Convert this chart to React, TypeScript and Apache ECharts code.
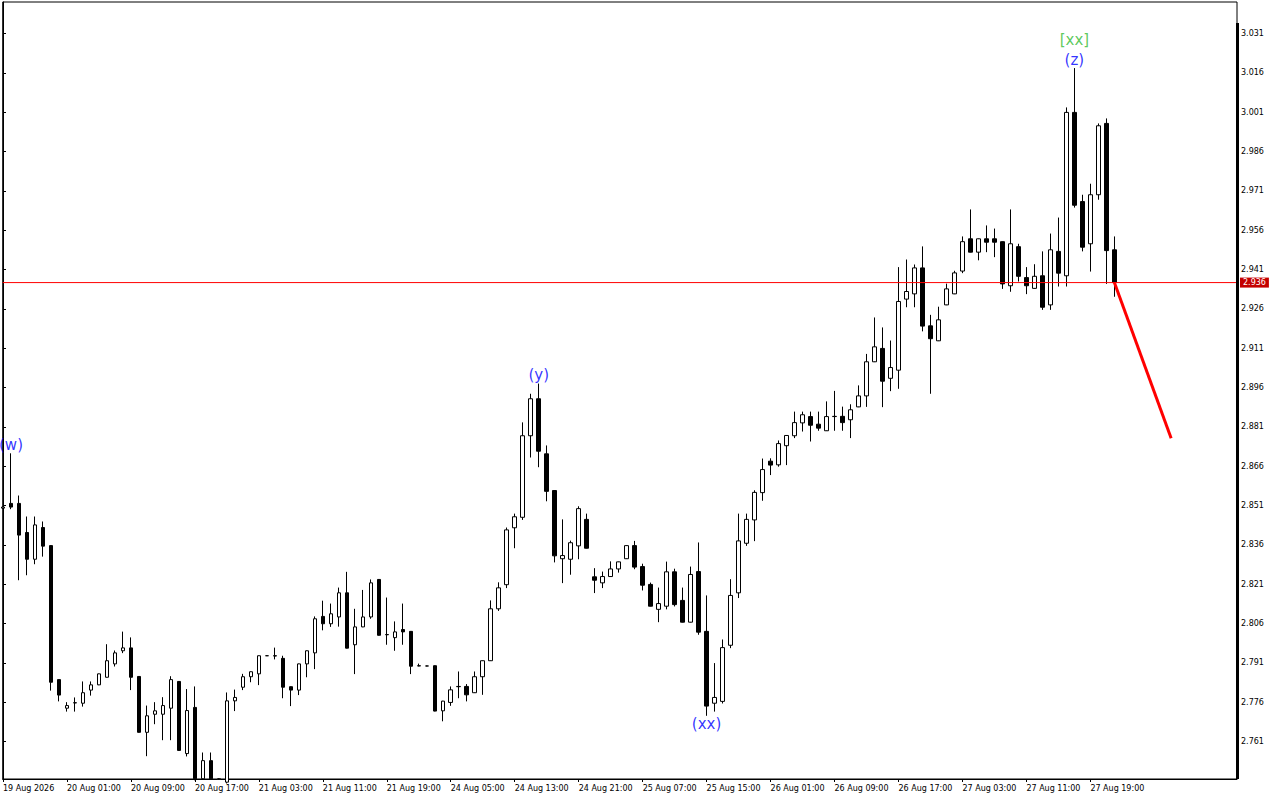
import React, { useEffect, useRef } from 'react';
import * as echarts from 'echarts';

// hourly candles, index 0 = 19 Aug 17:00
const opens = [
  2.85, 2.8518, 2.8518, 2.8407, 2.8305, 2.8426, 2.8357, 2.7846, 2.7737, 2.7757,
  2.7756, 2.7806, 2.7826, 2.7855, 2.7906, 2.7956, 2.7967, 2.7858, 2.7645, 2.7714,
  2.7714, 2.7737, 2.7839, 2.7564, 2.774, 2.7468, 2.7537, 2.7466, 2.7455, 2.7765,
  2.7817, 2.7857, 2.7868, 2.7937, 2.7937, 2.7927, 2.7819, 2.7806, 2.7906, 2.7948,
  2.8087, 2.8059, 2.8085, 2.8177, 2.7979, 2.8047, 2.8085, 2.8228, 2.8017, 2.8006,
  2.8037, 2.803, 2.7898, 2.7898, 2.7899, 2.7727, 2.7759, 2.7819, 2.782, 2.7796,
  2.7857, 2.7918, 2.8116, 2.8208, 2.8425, 2.8465, 2.8776, 2.8917, 2.8707, 2.8567,
  2.8307, 2.8305, 2.8356, 2.8457, 2.8238, 2.8215, 2.8239, 2.8268, 2.8307, 2.8357,
  2.8277, 2.8209, 2.8114, 2.8126, 2.8257, 2.8148, 2.8065, 2.8258, 2.803, 2.7756,
  2.7763, 2.7977, 2.8177, 2.8366, 2.8455, 2.8559, 2.8679, 2.8665, 2.8738, 2.8776,
  2.8825, 2.8849, 2.882, 2.8795, 2.8849, 2.885, 2.8837, 2.8886, 2.8928, 2.9058,
  2.9109, 2.8995, 2.9026, 2.9297, 2.9317, 2.9416, 2.9195, 2.9138, 2.9275, 2.9317,
  2.9404, 2.9527, 2.9476, 2.9527, 2.9527, 2.9516, 2.9348, 2.9497, 2.9379, 2.9338,
  2.9386, 2.9275, 2.9479, 2.9386, 3.0009, 2.9669, 2.9508, 2.9695, 2.9967, 2.9485,
];
const closes = [
  2.8504, 2.8504, 2.8397, 2.8305, 2.8436, 2.8355, 2.7836, 2.7787, 2.7747, 2.7758,
  2.7796, 2.7826, 2.7868, 2.7918, 2.7948, 2.7967, 2.7855, 2.7645, 2.7708, 2.7727,
  2.7747, 2.7846, 2.7576, 2.7728, 2.7468, 2.7537, 2.7468, 2.7468, 2.7765, 2.7778,
  2.7857, 2.7876, 2.7937, 2.7937, 2.7936, 2.7817, 2.7806, 2.7906, 2.7956, 2.8078,
  2.8059, 2.8097, 2.8177, 2.7966, 2.8047, 2.8085, 2.8215, 2.8015, 2.8018, 2.8028,
  2.8028, 2.7897, 2.7899, 2.7898, 2.7726, 2.7764, 2.7807, 2.782, 2.7788, 2.7857,
  2.7918, 2.8116, 2.8196, 2.8417, 2.8467, 2.8776, 2.8917, 2.8717, 2.8564, 2.8318,
  2.8319, 2.8368, 2.8498, 2.8347, 2.8225, 2.8239, 2.8268, 2.8295, 2.8357, 2.8275,
  2.8206, 2.8126, 2.8136, 2.8257, 2.8132, 2.8065, 2.8247, 2.8027, 2.7745, 2.7778,
  2.7968, 2.8167, 2.8375, 2.8457, 2.856, 2.8647, 2.8664, 2.8746, 2.8777, 2.8826,
  2.8856, 2.8816, 2.8805, 2.8849, 2.885, 2.8826, 2.8875, 2.8928, 2.9058, 2.9115,
  2.8984, 2.9036, 2.9288, 2.9326, 2.9416, 2.9194, 2.9146, 2.9218, 2.9336, 2.9397,
  2.9516, 2.9476, 2.9527, 2.9514, 2.9514, 2.9355, 2.9508, 2.9384, 2.9348, 2.9384,
  2.9266, 2.9485, 2.9396, 3.0009, 2.9655, 2.9495, 2.9695, 2.9958, 2.9482, 2.936,
];
const lows = [
  2.8498, 2.8496, 2.8225, 2.8244, 2.8286, 2.8315, 2.7804, 2.7763, 2.7724, 2.7724,
  2.7743, 2.7785, 2.7825, 2.7854, 2.7896, 2.7947, 2.7806, 2.7644, 2.7554, 2.7676,
  2.7615, 2.7615, 2.7575, 2.7553, 2.7462, 2.7466, 2.7466, 2.7464, 2.745, 2.7726,
  2.7806, 2.7836, 2.7825, 2.7936, 2.7923, 2.7775, 2.7745, 2.7787, 2.7855, 2.7886,
  2.8034, 2.8047, 2.8048, 2.7965, 2.7867, 2.8046, 2.8078, 2.8014, 2.7979, 2.7956,
  2.7979, 2.7867, 2.7897, 2.7897, 2.7725, 2.7687, 2.7746, 2.7775, 2.7763, 2.7795,
  2.7788, 2.7917, 2.8108, 2.8195, 2.8347, 2.8455, 2.8693, 2.8656, 2.8526, 2.8293,
  2.8214, 2.8246, 2.8305, 2.8346, 2.8176, 2.8195, 2.8238, 2.8254, 2.8306, 2.8267,
  2.8186, 2.8125, 2.8065, 2.8114, 2.8125, 2.8064, 2.8064, 2.8017, 2.7708, 2.7724,
  2.7755, 2.7966, 2.8157, 2.8356, 2.8374, 2.8528, 2.8626, 2.8658, 2.8664, 2.8767,
  2.8792, 2.8754, 2.8795, 2.8794, 2.8795, 2.8795, 2.8767, 2.8885, 2.8886, 2.9057,
  2.8885, 2.8946, 2.8955, 2.9266, 2.9266, 2.9174, 2.8936, 2.9137, 2.9274, 2.9316,
  2.9396, 2.9475, 2.9445, 2.9476, 2.9457, 2.9336, 2.9325, 2.9364, 2.9316, 2.9337,
  2.9256, 2.9256, 2.9345, 2.9345, 2.9646, 2.9479, 2.9402, 2.9676, 2.9355, 2.9306,
];
const highs = [
  2.8506, 2.8709, 2.8548, 2.8468, 2.8468, 2.8449, 2.8358, 2.7846, 2.776, 2.7778,
  2.7839, 2.7839, 2.7869, 2.7981, 2.7957, 2.8029, 2.8007, 2.7858, 2.7747, 2.776,
  2.7779, 2.7859, 2.784, 2.781, 2.782, 2.7568, 2.7568, 2.747, 2.7797, 2.7808,
  2.7868, 2.7877, 2.7938, 2.7938, 2.7968, 2.7937, 2.782, 2.7907, 2.7957, 2.8087,
  2.8147, 2.8136, 2.8197, 2.8257, 2.8116, 2.8188, 2.8228, 2.8229, 2.8159, 2.8068,
  2.8136, 2.8031, 2.7907, 2.7899, 2.79, 2.7765, 2.782, 2.7877, 2.7829, 2.7877,
  2.7919, 2.8148, 2.8217, 2.8426, 2.8479, 2.8827, 2.8936, 2.8975, 2.8739, 2.8568,
  2.8457, 2.8376, 2.8507, 2.8479, 2.8271, 2.8258, 2.8297, 2.8296, 2.8358, 2.8375,
  2.8288, 2.8216, 2.8197, 2.8296, 2.8269, 2.8197, 2.8277, 2.8369, 2.8167, 2.7909,
  2.7999, 2.8229, 2.8479, 2.8479, 2.8568, 2.8689, 2.869, 2.8758, 2.8778, 2.8868,
  2.8868, 2.8868, 2.8868, 2.8907, 2.8947, 2.8887, 2.8896, 2.8968, 2.9088, 2.9227,
  2.9189, 2.9139, 2.9419, 2.9448, 2.9429, 2.9498, 2.9237, 2.9268, 2.9356, 2.9405,
  2.9536, 2.9639, 2.9528, 2.9578, 2.9566, 2.9517, 2.9639, 2.9508, 2.9419, 2.943,
  2.9479, 2.9547, 2.9608, 3.0028, 3.0178, 2.9695, 2.9737, 2.9967, 2.9986, 2.9536,
];

const timeLabels = [
  '19 Aug 2026', '20 Aug 01:00', '20 Aug 09:00', '20 Aug 17:00', '21 Aug 03:00',
  '21 Aug 11:00', '21 Aug 19:00', '24 Aug 05:00', '24 Aug 13:00', '24 Aug 21:00',
  '25 Aug 07:00', '25 Aug 15:00', '26 Aug 01:00', '26 Aug 09:00', '26 Aug 17:00',
  '27 Aug 03:00', '27 Aug 11:00', '27 Aug 19:00',
];
const timeLabelStep = 8;

const priceTicks = [
  '2.761', '2.776', '2.791', '2.806', '2.821', '2.836', '2.851', '2.866', '2.881', '2.896',
  '2.911', '2.926', '2.941', '2.956', '2.971', '2.986', '3.001', '3.016', '3.031',
];
const currentPrice = 2.936;

// wave marks (candle index, text)
const waveIdx = [1, 67, 88, 134];
const waveText = ['(w)', '(y)', '(xx)', '(z)'];
const waveBelow = [false, false, true, false];
const outerIdx = 134;
const outerText = '[xx]';

// projected move
const projX = [139, 146.1];
const projY = [2.936, 2.8766];

const FONT = 'DejaVu Sans';
const X_MIN = -0.0375;
const X_MAX = 154.3375;

const App: React.FC = () => {
  const chartRef = useRef<HTMLDivElement>(null);

  useEffect(() => {
    if (!chartRef.current) return;
    const chart = echarts.init(chartRef.current, undefined, { renderer: 'svg' });

    const candles = opens.map((o, i) => [i, o, closes[i], lows[i], highs[i]]);
    const tickIdx = timeLabels.map((_, i) => i * timeLabelStep);
    const yVals = priceTicks.map(Number);

    const waveData = waveIdx.map((k, i) => ({
      value: [k, waveBelow[i] ? lows[k] : highs[k]],
      label: { position: waveBelow[i] ? 'bottom' : 'top', formatter: waveText[i] },
    }));

    const option: echarts.EChartsOption = {
      animation: false,
      backgroundColor: '#ffffff',
      grid: {
        left: 2,
        top: 2,
        right: 43,
        bottom: 21,
        show: true,
        borderColor: '#000000',
        borderWidth: 1,
        backgroundColor: '#ffffff',
      },
      xAxis: {
        type: 'value',
        min: X_MIN,
        max: X_MAX,
        splitLine: { show: false },
        axisLine: { show: true, lineStyle: { color: '#000000', width: 1 } },
        axisTick: {
          show: true,
          length: 3,
          customValues: tickIdx,
          lineStyle: { color: '#000000' },
        },
        axisLabel: {
          customValues: tickIdx,
          align: 'left',
          margin: 5,
          fontFamily: FONT,
          fontSize: 8,
          color: '#000000',
          formatter: (v: number) => timeLabels[Math.round(v / timeLabelStep)] ?? '',
        },
      },
      yAxis: {
        type: 'value',
        position: 'right',
        min: 2.7467,
        max: 3.043,
        splitLine: { show: false },
        axisLine: { show: true, lineStyle: { color: '#000000', width: 1 } },
        axisTick: {
          show: true,
          length: 3,
          customValues: yVals,
          lineStyle: { color: '#000000' },
        },
        axisLabel: {
          customValues: yVals,
          margin: 4,
          fontFamily: FONT,
          fontSize: 8,
          color: '#000000',
          formatter: (v: number) => v.toFixed(3),
        },
      },
      graphic: [
        { type: 'rect', shape: { x: 1236, y: 23, width: 3, height: 756 }, style: { fill: '#000000' }, z: 100 },
      ],
      series: [
        {
          type: 'candlestick',
          data: candles,
          encode: { x: 0, y: [1, 2, 3, 4] },
          barWidth: 4,
          clip: true,
          itemStyle: {
            color: '#ffffff',
            color0: '#000000',
            borderColor: '#000000',
            borderColor0: '#000000',
            borderWidth: 1,
          },
        },
        {
          // current price line with its label on the price scale
          type: 'line',
          data: [
            [X_MIN, currentPrice],
            [X_MAX, currentPrice],
          ],
          symbol: 'none',
          silent: true,
          lineStyle: { color: '#ff0000', width: 1 },
          itemStyle: { color: '#ff0000' },
          z: 4,
          endLabel: {
            show: true,
            distance: 3,
            formatter: currentPrice.toFixed(3),
            color: '#ffffff',
            backgroundColor: '#c40000',
            padding: [1, 3, 1, 3],
            fontFamily: FONT,
            fontSize: 8,
          },
        },
        {
          type: 'line',
          data: projX.map((x, i) => [x, projY[i]]),
          symbol: 'none',
          lineStyle: { color: '#ff0000', width: 3 },
          itemStyle: { color: '#ff0000' },
          z: 5,
        },
        {
          type: 'scatter',
          data: waveData,
          symbolSize: 0,
          label: {
            show: true,
            distance: 0,
            color: '#0000ff',
            fontFamily: FONT,
            fontSize: 15,
            lineHeight: 17,
          },
          z: 6,
        },
        {
          type: 'scatter',
          data: [[outerIdx, highs[outerIdx]]],
          symbolSize: 0,
          label: {
            show: true,
            position: 'top',
            distance: 20,
            formatter: outerText,
            color: '#33bb33',
            fontFamily: FONT,
            fontSize: 15,
            lineHeight: 17,
          },
          z: 6,
        },
      ],
    };

    chart.setOption(option);
    return () => {
      chart.dispose();
    };
  }, []);

  return (
    <div
      ref={chartRef}
      style={{ position: 'fixed', left: 0, top: 0, width: 1280, height: 800, background: '#ffffff' }}
    />
  );
};

export default App;
